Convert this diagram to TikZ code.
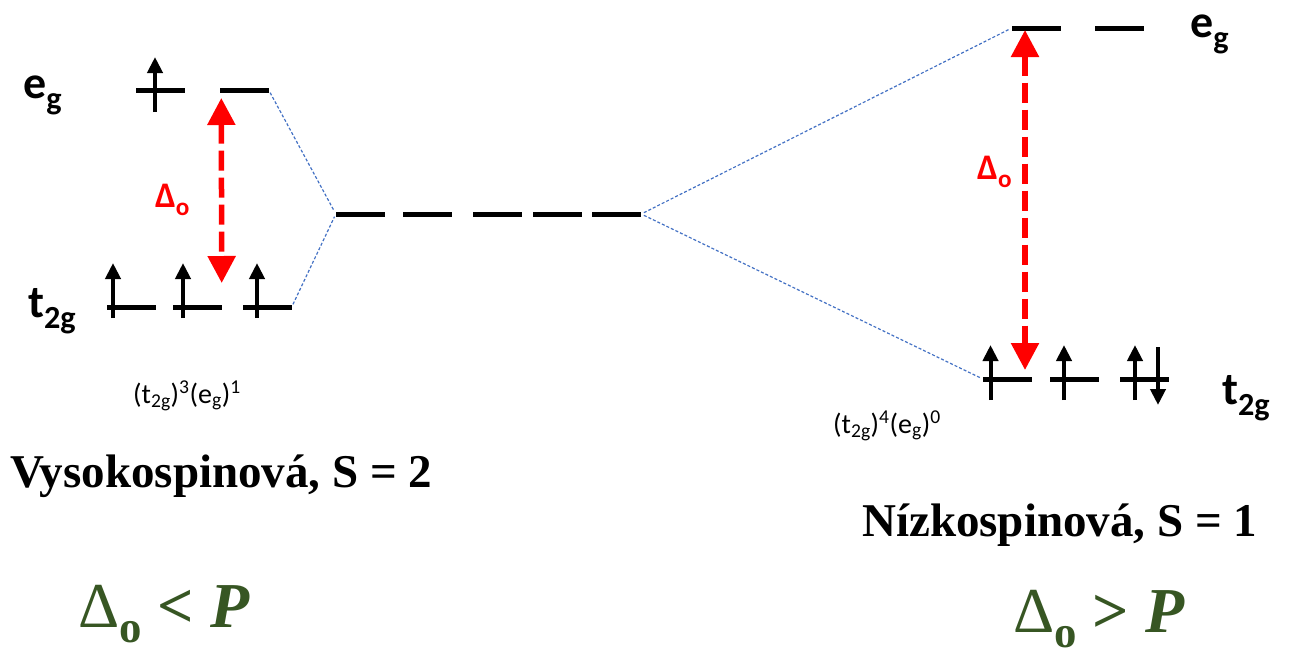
\documentclass[tikz,border=0pt]{standalone}
\usepackage{fontspec}
\setmainfont{Liberation Serif}
\newfontfamily\calfont{Carlito}
\usetikzlibrary{arrows.meta,positioning}
\definecolor{corrblue}{HTML}{4472C4}
\definecolor{pgreen}{HTML}{375623}
\newcommand\lsub[1]{\raisebox{-0.24em}{\scalebox{0.7}{#1}}}

\begin{document}
\begin{tikzpicture}[x=1pt, y=-1pt, node distance=66pt, on grid,
  orbital/.style={fill, minimum width=49pt, minimum height=5pt, inner sep=0pt},
  spin/.style={-{Triangle[width=15pt,length=16pt]}, line width=4pt},
  split/.style={red, line width=5.5pt, dash pattern=on 20pt off 7pt,
    {Triangle[width=27pt,length=27pt]}-{Triangle[width=27pt,length=27pt]}},
  corr/.style={corrblue, line width=1.2pt, dash pattern=on 3pt off 2pt, shorten <=3pt, shorten >=3pt},
  orb/.style={font=\calfont\bfseries\fontsize{46}{50}\selectfont, inner sep=0pt, anchor=base west},
  delta/.style={red, font=\calfont\bfseries\fontsize{36}{40}\selectfont, inner sep=0pt, anchor=base west},
  config/.style={font=\calfont\fontsize{28}{32}\selectfont, inner sep=0pt, anchor=base west},
  spinname/.style={font=\bfseries\fontsize{47}{52}\selectfont, inner sep=0pt, anchor=base west},
  cond/.style={pgreen, font=\fontsize{64}{70}\selectfont, inner sep=0pt, anchor=base west}]
  \useasboundingbox (0,0) rectangle (1296,656);

  % high spin (left)
  \node[orbital] (LE1) at (160,90) {};
  \node[orbital] (LE2) [right=84pt of LE1] {};
  \node[orbital] (LT1) at (131,307) {};
  \node[orbital] (LT2) [right=of LT1] {};
  \node[orbital] (LT3) [right=70pt of LT2] {};

  % free ion
  \node[orbital] (M1) at (360.5,214) {};
  \node[orbital] (M2) [right=67pt of M1] {};
  \node[orbital] (M3) [right=70pt of M2] {};
  \node[orbital] (M4) [right=60pt of M3] {};
  \node[orbital] (M5) [right=59pt of M4] {};

  % low spin (right)
  \node[orbital] (RE1) at (1036.5,28) {};
  \node[orbital] (RE2) [right=83pt of RE1] {};
  \node[orbital] (RT1) at (1007.5,379) {};
  \node[orbital] (RT2) [right=66.5pt of RT1] {};
  \node[orbital] (RT3) [right=70pt of RT2] {};

  \draw[corr] (LE2.east) -- (M1.west);
  \draw[corr] (LT3.east) -- (M1.west);
  \draw[corr] (M5.east) -- (RE1.west);
  \draw[corr] (M5.east) -- (RT1.west);

  % electrons
  \draw[spin] ([shift={(-5,22)}]LE1.center) -- ++(0,-55);
  \foreach \o/\dx in {LT1/-18, LT2/-14, LT3/-10}
    \draw[spin] ([shift={(\dx,11)}]\o.center) -- ++(0,-55);
  \foreach \o/\dx in {RT1/-17, RT2/-10, RT3/-9}
    \draw[spin] ([shift={(\dx,21)}]\o.center) -- ++(0,-55);
  \draw[spin] ([shift={(14,-32)}]RT3.center) -- ++(0,58);

  % splitting
  \draw[split] ([shift={(2,8)}]LE2.west) -- ([shift={(0,-24)}]LT2.east);
  \draw[split] ([shift={(-11.5,2)}]RE1.center) -- ([shift={(17.5,-9)}]RT1.center);

  \node[orb] (egL) at (23,98) {e\lsub{g}};
  \node[orb] (t2gL) at (28,317) {t\lsub{2g}};
  \node[orb] (egR) at (1190,37) {e\lsub{g}};
  \node[orb] (t2gR) at (1222,404) {t\lsub{2g}};
  \node[delta] (dL) at (155,207) {Δ\lsub{o}};
  \node[delta] (dR) at (977,179) {Δ\lsub{o}};

  \node[config] (cfgL) at (133,403) {(t\textsubscript{2g})\textsuperscript{3}(e\textsubscript{g})\textsuperscript{1}};
  \node[config] (cfgR) at (833,433) {(t\textsubscript{2g})\textsuperscript{4}(e\textsubscript{g})\textsuperscript{0}};

  \node[spinname] (hs) at (10,487) {Vysokospinová, S = 2};
  \node[spinname] (ls) at (862,536) {Nízkospinová, S = 1};

  \node[cond] (condL) at (78,627) {Δ\lsub{\textbf{o}} \textbf{<} \textbf{\textit{P}}};
  \node[cond] (condR) at (1013,632) {Δ\lsub{\textbf{o}} \textbf{>} \textbf{\textit{P}}};
\end{tikzpicture}
\end{document}
